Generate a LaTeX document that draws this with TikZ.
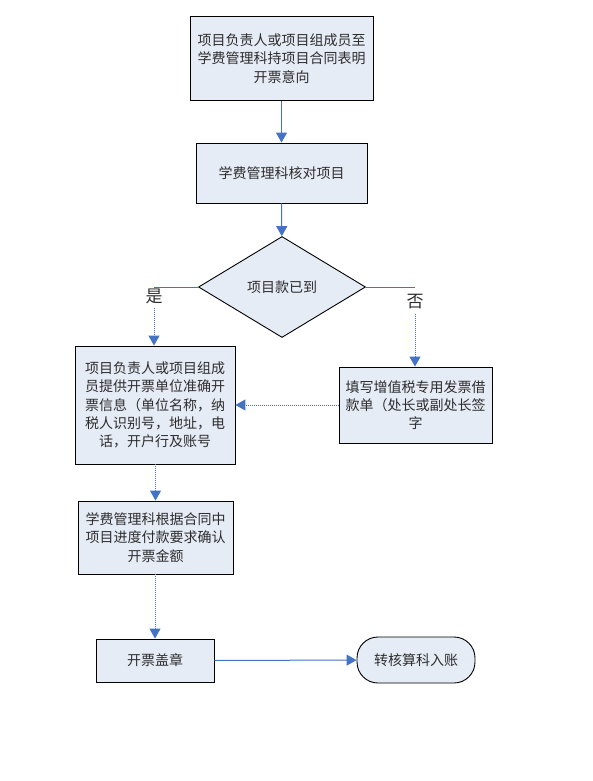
\documentclass[tikz,border=0pt]{standalone}
\usepackage{fontspec}
\setmainfont{Noto Sans CJK SC}
\usetikzlibrary{shapes.geometric,arrows.meta}
\definecolor{boxfill}{RGB}{230,236,246}
\definecolor{arrowblue}{RGB}{68,114,196}
\definecolor{txt}{RGB}{45,45,45}
\tikzset{
  procbox/.style={draw=black, line width=0.9pt, fill=boxfill, inner sep=0pt, align=center, text=txt,
    font=\fontsize{14}{18.3}\selectfont},
  decbox/.style={procbox, shape=diamond},
  termbox/.style={procbox, rounded corners=21pt},
  conn/.style={draw=arrowblue, line width=1pt},
  arr/.style={conn, -{Triangle[width=11pt,length=10pt]}},
  dotarr/.style={arr, dash pattern=on 1pt off 1pt},
  yn/.style={text=txt, inner sep=0pt, font=\fontsize{17}{18}\selectfont},
}
\begin{document}
\begin{tikzpicture}[x=1pt,y=-1pt]
\useasboundingbox (0,0) rectangle (592,781);
\node[procbox, minimum width=183pt, minimum height=84pt] (b1) at (281.5,58.5)
  {项目负责人或项目组成员至\\学费管理科持项目合同表明\\开票意向};
\node[procbox, minimum width=171pt, minimum height=60pt] (b2) at (281.5,173)
  {学费管理科核对项目};
\node[decbox, minimum width=167pt, minimum height=101pt] (d) at (282,287)
  {项目款已到};
\node[procbox, minimum width=160pt, minimum height=118pt] (l) at (155,405)
  {项目负责人或项目组成\\员提供开票单位准确开\\票信息（单位名称，纳\\税人识别号，地址，电\\话，开户行及账号};
\node[procbox, minimum width=153pt, minimum height=76pt] (r) at (415.5,405)
  {填写增值税专用发票借\\款单（处长或副处长签\\字};
\node[procbox, minimum width=155pt, minimum height=73pt] (b3) at (155.5,537.5)
  {学费管理科根据合同中\\项目进度付款要求确认\\开票金额};
\node[procbox, minimum width=118pt, minimum height=43pt] (b4) at (155,660.5)
  {开票盖章};
\node[termbox, minimum width=118pt, minimum height=46pt] (t) at (416,660)
  {转核算科入账};
\node[yn] (yes) at (154,296) {是};
\node[yn] (no) at (415,302) {否};
\coordinate (yc) at (154,287);
\coordinate (nc) at (415,287);
\draw[arr] (b1) -- (b2);
\draw[arr] (b2) -- (d);
\draw[conn] (d.west) -- (yc);
\draw[conn] (d.east) -- (nc);
\draw[dotarr] ([yshift=-4pt]yes.south) -- (yes.south |- l.north);
\draw[dotarr] ([yshift=-4pt]no.south) -- (no.south |- r.north);
\draw[dotarr] (r.west) -- (l.east);
\draw[dotarr] (l.south -| b3.north) -- (b3.north);
\draw[dotarr] (b3.south -| b4.north) -- (b4.north);
\draw[arr] (b4) -- (t);
\end{tikzpicture}
\end{document}
